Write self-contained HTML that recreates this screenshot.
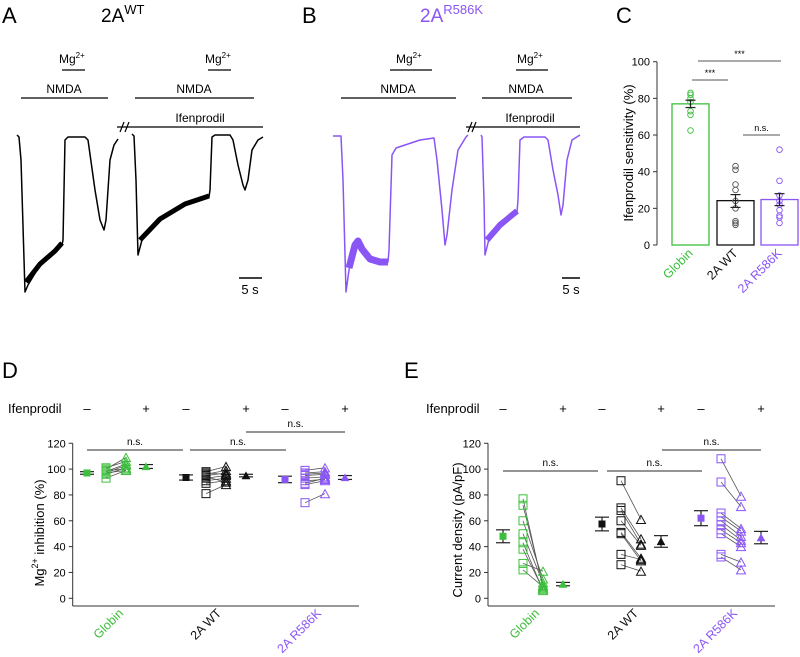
<!DOCTYPE html>
<html><head><meta charset="utf-8"><style>
html,body{margin:0;padding:0;background:#fff}
svg{display:block;font-family:"Liberation Sans",sans-serif}
</style></head><body>
<svg id="fig" width="800" height="657" viewBox="0 0 800 657">
<!-- Panel labels -->
<text x="2" y="23" font-size="22">A</text>
<text x="101" y="22" font-size="19">2A<tspan font-size="13" dy="-8">WT</tspan></text>
<text x="302" y="23" font-size="22">B</text>
<text x="420" y="22" font-size="19" fill="#8a55f5">2A<tspan font-size="13" dy="-8">R586K</tspan></text>
<text x="616" y="23" font-size="22">C</text>
<text x="2" y="378" font-size="22">D</text>
<text x="404" y="378" font-size="22">E</text>

<!-- Panel A annotations -->
<g font-size="12">
<text x="59" y="63">Mg<tspan font-size="8" dy="-5">2+</tspan></text>
<line x1="62" y1="70" x2="85" y2="70" stroke="#000" stroke-width="1.3"/>
<text x="64" y="93" text-anchor="middle">NMDA</text>
<line x1="21" y1="98" x2="108" y2="98" stroke="#000" stroke-width="1.3"/>
<text x="205" y="63">Mg<tspan font-size="8" dy="-5">2+</tspan></text>
<line x1="208" y1="70" x2="231" y2="70" stroke="#000" stroke-width="1.3"/>
<text x="194" y="93" text-anchor="middle">NMDA</text>
<line x1="135" y1="98" x2="254" y2="98" stroke="#000" stroke-width="1.3"/>
<text x="200" y="122" text-anchor="middle">Ifenprodil</text>
<line x1="117" y1="127" x2="263" y2="127" stroke="#000" stroke-width="1.3"/>
<line x1="120" y1="132" x2="124" y2="122" stroke="#000" stroke-width="1.2"/>
<line x1="125" y1="132" x2="129" y2="122" stroke="#000" stroke-width="1.2"/>
<line x1="239" y1="278" x2="262" y2="278" stroke="#000" stroke-width="1.5"/>
<text x="250" y="294" text-anchor="middle" font-size="13">5 s</text>
</g>
<g fill="none" stroke="#000" stroke-linejoin="round">
<polyline stroke-width="1.5" points="17,135 19,137 21,160 25,292 28,285 40,265 55,252 62,245 63,240 65,140 68,137 85,137 88,140 95,190 100,220 104,230 106,220 110,160 114,145 118,139"/>
<polyline stroke-width="5" points="26,282 40,264 55,251 62,243"/>
<polyline stroke-width="1.5" points="132,134 134,136 136,180 138,255 142,240 160,220 185,205 209,197 210,190 212,137 215,135 230,135 233,140 238,165 243,185 245,190 248,180 252,150 258,140 263,137"/>
<polyline stroke-width="5" points="140,240 160,219 185,204 209,196"/>
</g>

<!-- Panel B annotations -->
<g font-size="12">
<text x="396" y="63">Mg<tspan font-size="8" dy="-5">2+</tspan></text>
<line x1="390" y1="70" x2="432" y2="70" stroke="#000" stroke-width="1.3"/>
<text x="398" y="93" text-anchor="middle">NMDA</text>
<line x1="341" y1="98" x2="456" y2="98" stroke="#000" stroke-width="1.3"/>
<text x="517" y="63">Mg<tspan font-size="8" dy="-5">2+</tspan></text>
<line x1="516" y1="70" x2="548" y2="70" stroke="#000" stroke-width="1.3"/>
<text x="526" y="93" text-anchor="middle">NMDA</text>
<line x1="482" y1="98" x2="572" y2="98" stroke="#000" stroke-width="1.3"/>
<text x="530" y="122" text-anchor="middle">Ifenprodil</text>
<line x1="466" y1="127" x2="580" y2="127" stroke="#000" stroke-width="1.3"/>
<line x1="468" y1="132" x2="472" y2="122" stroke="#000" stroke-width="1.2"/>
<line x1="472" y1="132" x2="476" y2="122" stroke="#000" stroke-width="1.2"/>
<line x1="562" y1="278" x2="580" y2="278" stroke="#000" stroke-width="1.5"/>
<text x="571" y="294" text-anchor="middle" font-size="13">5 s</text>
</g>
<g fill="none" stroke="#8a55f5" stroke-linejoin="round">
<polyline stroke-width="1.5" points="333,136 341,136 343,180 346,292 349,270 355,245 358,240 362,248 370,258 380,262 388,262 389,250 392,155 396,148 420,140 434,138 437,160 442,210 445,245 447,235 452,190 458,150 466,137 468,135"/>
<polyline stroke-width="7" points="349,268 355,245 358,241 362,249 370,259 380,262 388,262"/>
<polyline stroke-width="1.5" points="481,135 482,137 484,200 485,255 490,235 500,225 517,212 518,200 520,140 524,137 545,137 548,140 553,170 558,195 561,215 563,205 567,160 572,140 580,135"/>
<polyline stroke-width="6" points="487,240 500,225 517,211"/>
</g>

<g id="panelC"></g>
<g id="panelD"></g>
<g id="panelE"></g>
</svg>
<script>
const GREEN = "#3cbf3c", PURPLE = "#8a55f5", BLACK = "#111";
const NS = "http://www.w3.org/2000/svg";
// Panel C data
const cCategories = ["Globin", "2A WT", "2A R586K"];
const cMeans = [77, 24.2, 24.8];
const cSemLo = [75, 20.5, 21.5];
const cSemHi = [79, 27.5, 28];
const cPoints0 = [83, 82, 80, 78, 73, 71, 62.5];
const cPoints1 = [43, 41, 33, 30, 24, 20, 13, 12, 11];
const cPoints2 = [52, 35, 27, 24, 22, 19, 16, 15, 12];
const cTicks = [0, 20, 40, 60, 80, 100];
// Panel D data
const dCategories = ["Globin", "2A WT", "2A R586K"];
const dMeanMinus = [97, 93.5, 92];
const dSemMinus = [1, 2, 2.5];
const dMeanPlus = [102, 95, 93.5];
const dSemPlus = [1.5, 1, 1.5];
const dBefore0 = [100, 98, 97, 96, 93, 101, 99, 97];
const dAfter0 = [109, 104, 103, 101, 99, 106, 100, 99];
const dBefore1 = [98, 96, 95, 93, 91, 89, 81, 97, 94];
const dAfter1 = [102, 99, 97, 95, 93, 91, 88, 96, 90];
const dBefore2 = [99, 97, 95, 93, 91, 89, 88, 74, 96];
const dAfter2 = [101, 98, 96, 94, 92, 93, 91, 81, 97];
const dTicks = [0, 20, 40, 60, 80, 100, 120];
// Panel E data
const eCategories = ["Globin", "2A WT", "2A R586K"];
const eMeanMinus = [48, 57.5, 62];
const eSemMinus = [5, 5.3, 5.8];
const eMeanPlus = [11, 44, 47];
const eSemPlus = [1.3, 4.5, 4.8];
const eBefore0 = [77, 72, 60, 50, 43, 38, 27, 22];
const eAfter0 = [8, 10, 15, 12, 6, 7, 21, 9];
const eBefore1 = [91, 70, 68, 60, 51, 50, 34, 26];
const eAfter1 = [61, 46, 42, 41, 31, 29, 30, 21];
const eBefore2 = [108, 90, 66, 63, 60, 57, 53, 50, 34, 32];
const eAfter2 = [79, 71, 54, 52, 48, 45, 43, 40, 28, 22];
const eTicks = [0, 20, 40, 60, 80, 100, 120];

const colors = [GREEN, BLACK, PURPLE];

function el(parent, tag, attrs, text) {
  const e = document.createElementNS(NS, tag);
  for (const k in attrs) e.setAttribute(k, attrs[k]);
  if (text !== undefined) e.textContent = text;
  parent.appendChild(e);
  return e;
}

// ---------- Panel C ----------
(function () {
  const g = document.getElementById("panelC");
  const y = v => 245 - 1.833 * v;
  const barX = [672, 717, 761], barW = 37;
  let ax = el(g, "line", {x1: 657, y1: y(100), x2: 657, y2: y(0), stroke: "#333", "stroke-width": 1});
  
  
  cTicks.forEach(t => {
    el(g, "line", {x1: 653, y1: y(t), x2: 657, y2: y(t), stroke: "#333"});
    const tl = el(g, "text", {x: 650, y: y(t) + 4, "font-size": 11, "text-anchor": "end"}, String(t));
    
    
  });
  const yt = el(g, "text", {x: 0, y: 0, "font-size": 13, "text-anchor": "middle", transform: "translate(633,153) rotate(-90)"}, "Ifenprodil sensitivity (%)");
  
  
  const pts = [cPoints0, cPoints1, cPoints2];
  cCategories.forEach((c, i) => {
    const b = el(g, "rect", {x: barX[i], y: y(cMeans[i]), width: barW, height: y(0) - y(cMeans[i]), fill: "none", stroke: colors[i], "stroke-width": 1.3});
    
    
    const cx = barX[i] + barW / 2;
    pts[i].forEach(v => {
      const p = el(g, "circle", {cx: cx, cy: y(v), r: 2.8, fill: "none", stroke: i == 1 ? "#555" : colors[i], "stroke-width": 0.9});
      
      
    });
    el(g, "line", {x1: cx, y1: y(cSemLo[i]), x2: cx, y2: y(cSemHi[i]), stroke: "#222", "stroke-width": 1.2});
    el(g, "line", {x1: cx - 5, y1: y(cSemLo[i]), x2: cx + 5, y2: y(cSemLo[i]), stroke: "#222", "stroke-width": 1.2});
    el(g, "line", {x1: cx - 5, y1: y(cSemHi[i]), x2: cx + 5, y2: y(cSemHi[i]), stroke: "#222", "stroke-width": 1.2});
    const lbl = el(g, "text", {x: 0, y: 0, "font-size": 12.5, "text-anchor": "end", fill: colors[i], transform: "translate(" + (cx + 3) + ",254) rotate(-45)"}, c);
    
    
  });
  const sig = [[692, 728, 80, "***"], [698, 781, 61, "***"], [743, 780, 135, "n.s."]];
  sig.forEach(s => {
    el(g, "line", {x1: s[0], y1: s[2], x2: s[1], y2: s[2], stroke: "#555", "stroke-width": 1});
    const t = el(g, "text", {x: (s[0] + s[1]) / 2, y: s[2] - 4, "font-size": 9, "text-anchor": "middle"}, s[3]);
    
    
  });
})();

// ---------- Paired panels D/E ----------
function square(g, x, y, s, fill, stroke) {
  return el(g, "rect", {x: x - s / 2, y: y - s / 2, width: s, height: s, fill: fill, stroke: stroke, "stroke-width": 1});
}
function tri(g, x, y, s, fill, stroke) {
  const h = s * 0.9;
  return el(g, "polygon", {points: (x - s / 2) + "," + (y + h / 2) + " " + (x + s / 2) + "," + (y + h / 2) + " " + x + "," + (y - h / 2), fill: fill, stroke: stroke, "stroke-width": 1});
}
function pairedPanel(cfg) {
  const g = document.getElementById(cfg.id);
  const y = v => 598.3 - 1.292 * v;
  const axX = cfg.axX;
  let a1 = el(g, "line", {x1: axX, y1: y(120), x2: axX, y2: 606, stroke: "#333"});
  
  
  let a2 = el(g, "line", {x1: axX, y1: 606, x2: cfg.axEnd, y2: 606, stroke: "#333"});
  
  
  cfg.ticks.forEach(t => {
    el(g, "line", {x1: axX - 4, y1: y(t), x2: axX, y2: y(t), stroke: "#333"});
    const tl = el(g, "text", {x: axX - 7, y: y(t) + 4, "font-size": 11, "text-anchor": "end"}, String(t));
    
    
  });
  const yt = el(g, "text", {x: 0, y: 0, "font-size": 13, "text-anchor": "middle", transform: "translate(" + cfg.titleX + "," + cfg.titleY + ") rotate(-90)"});
  
  
  yt.innerHTML = cfg.title;
  const ifl = el(g, "text", {x: cfg.ifX, y: 413, "font-size": 13}, "Ifenprodil");
  
  
  cfg.cats.forEach((c, i) => {
    const xs = cfg.cols[i];
    const col = colors[i];
    const m = el(g, "text", {x: xs[0], y: 413, "font-size": 13, "text-anchor": "middle"}, "\u2013");
    
    
    const p = el(g, "text", {x: xs[3], y: 413, "font-size": 13, "text-anchor": "middle"}, "+");
    
    
    const bef = cfg.before[i], aft = cfg.after[i];
    bef.forEach((v, k) => {
      el(g, "line", {x1: xs[1], y1: y(v), x2: xs[2], y2: y(aft[k]), stroke: "#555", "stroke-width": 0.8});
    });
    bef.forEach(v => {
      const s = square(g, xs[1], y(v), 8, "none", col);
      
      
    });
    aft.forEach(v => {
      const t = tri(g, xs[2], y(v), 9, "none", col);
      
      
    });
    [[xs[0], cfg.mMinus[i], cfg.sMinus[i], 0], [xs[3], cfg.mPlus[i], cfg.sPlus[i], 1]].forEach(q => {
      const lo = y(q[1] - q[2]), hi = y(q[1] + q[2]);
      el(g, "line", {x1: q[0], y1: lo, x2: q[0], y2: hi, stroke: "#222", "stroke-width": 1.2});
      el(g, "line", {x1: q[0] - 7, y1: lo, x2: q[0] + 7, y2: lo, stroke: "#222", "stroke-width": 1.2});
      el(g, "line", {x1: q[0] - 7, y1: hi, x2: q[0] + 7, y2: hi, stroke: "#222", "stroke-width": 1.2});
      const mk = q[3] == 0 ? square(g, q[0], y(q[1]), 6, col, col) : tri(g, q[0], y(q[1]), 7, col, col);
      
      
    });
    const lbl = el(g, "text", {x: 0, y: 0, "font-size": 12.5, "text-anchor": "end", fill: col, transform: "translate(" + cfg.labelEnd[i] + ",614) rotate(-45)"}, c);
    
    
  });
  cfg.sig.forEach(s => {
    el(g, "line", {x1: s[0], y1: s[2], x2: s[1], y2: s[2], stroke: "#555", "stroke-width": 1.2});
    const t = el(g, "text", {x: (s[0] + s[1]) / 2, y: s[2] - 5, "font-size": 10, "text-anchor": "middle"}, "n.s.");
    
    
  });
}
pairedPanel({
  id: "panelD", axX: 72.7, axEnd: 359, ticks: dTicks, titleX: 44, titleY: 533,
  title: 'Mg<tspan font-size="9" dy="-6">2+</tspan><tspan dy="6"> inhibition (%)</tspan>',
  ifX: 8, cats: dCategories,
  cols: [[87, 106, 126, 146], [186, 206, 226, 246], [285, 305, 325, 345]],
  before: [dBefore0, dBefore1, dBefore2], after: [dAfter0, dAfter1, dAfter2],
  mMinus: dMeanMinus, sMinus: dSemMinus, mPlus: dMeanPlus, sPlus: dSemPlus,
  labelEnd: [124, 222, 322],
  sig: [[87, 183, 450], [190, 286, 450], [246, 345, 432]]
});
pairedPanel({
  id: "panelE", axX: 488, axEnd: 775, ticks: eTicks, titleX: 462, titleY: 530,
  title: 'Current density (pA/pF)',
  ifX: 426, cats: eCategories,
  cols: [[503, 523, 543, 563], [602, 621, 641, 661], [701, 721, 741, 761]],
  before: [eBefore0, eBefore1, eBefore2], after: [eAfter0, eAfter1, eAfter2],
  mMinus: eMeanMinus, sMinus: eSemMinus, mPlus: eMeanPlus, sPlus: eSemPlus,
  labelEnd: [540, 639, 738],
  sig: [[503, 598, 471], [607, 702, 471], [662, 761, 450]]
});
</script>
</body></html>
